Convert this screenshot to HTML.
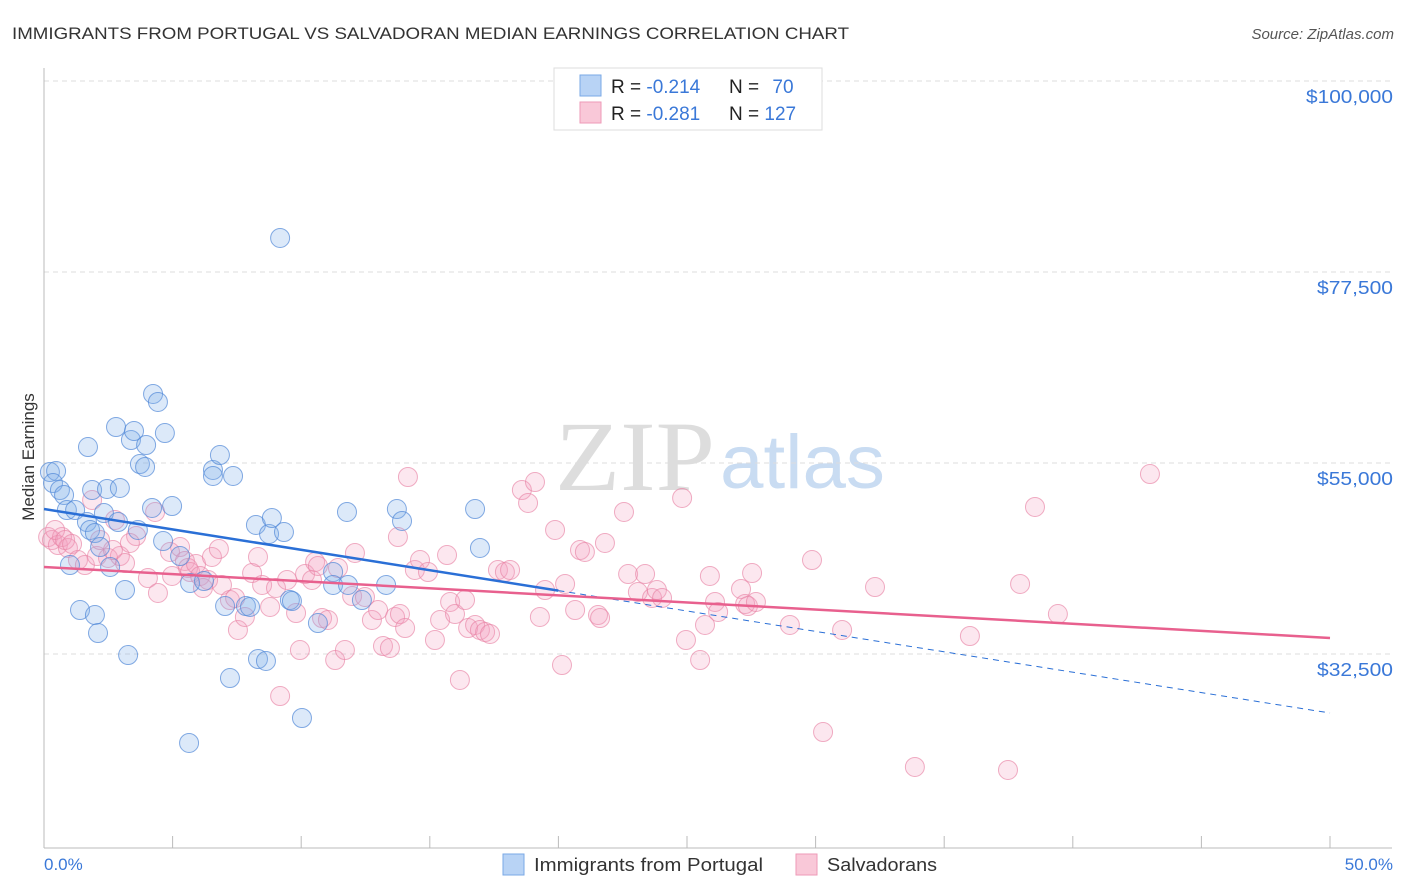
<!DOCTYPE html>
<html><head><meta charset="utf-8"><style>
body{margin:0;background:#fff;font-family:"Liberation Sans",sans-serif;}
svg{display:block}
</style></head><body>
<svg id="chart" width="1406" height="892" xmlns="http://www.w3.org/2000/svg">
<text x="12" y="39" font-size="17" fill="#333" textLength="837" lengthAdjust="spacingAndGlyphs">IMMIGRANTS FROM PORTUGAL VS SALVADORAN MEDIAN EARNINGS CORRELATION CHART</text>
<text x="1394" y="39" font-size="15" fill="#555" font-style="italic" text-anchor="end">Source: ZipAtlas.com</text>
<text x="555" y="490" font-size="100" fill="#ddd" font-family="Liberation Serif,serif" textLength="160" lengthAdjust="spacingAndGlyphs">ZIP</text>
<text x="720" y="488" font-size="76" fill="#c9dcf2" textLength="165" lengthAdjust="spacingAndGlyphs">atlas</text>
<g id="grid"></g><g id="marks"></g>
<text transform="translate(34,457) rotate(-90)" font-size="17" fill="#333" text-anchor="middle">Median Earnings</text>
<text x="44" y="870" font-size="17" fill="#3a78d8">0.0%</text>
<text x="1393" y="870" font-size="17" fill="#3a78d8" text-anchor="end">50.0%</text>
<g>
<rect x="554" y="68" width="268" height="62" fill="#fff" stroke="#ddd"/>
<rect x="580" y="75" width="21" height="21" fill="#b8d3f5" stroke="#7aa8e6"/>
<rect x="580" y="102" width="21" height="21" fill="#f9c8d8" stroke="#ee9ab7"/>
<text x="611" y="93" font-size="19" fill="#222">R = <tspan fill="#3a78d8">-0.214</tspan></text>
<text x="729" y="93" font-size="19" fill="#222">N = <tspan fill="#3a78d8" dx="8">70</tspan></text>
<text x="611" y="120" font-size="19" fill="#222">R = <tspan fill="#3a78d8">-0.281</tspan></text>
<text x="729" y="120" font-size="19" fill="#222">N = <tspan fill="#3a78d8">127</tspan></text>
</g>
<g>
<rect x="503" y="854" width="21" height="21" fill="#b8d3f5" stroke="#7aa8e6"/>
<text x="534" y="871" font-size="18" fill="#333" textLength="229" lengthAdjust="spacingAndGlyphs">Immigrants from Portugal</text>
<rect x="796" y="854" width="21" height="21" fill="#f9c8d8" stroke="#ee9ab7"/>
<text x="827" y="871" font-size="18" fill="#333" textLength="110" lengthAdjust="spacingAndGlyphs">Salvadorans</text>
</g>
</svg>
<script>
const yTicks=[32500,55000,77500,100000];
const yTickLabels=["$32,500","$55,000","$77,500","$100,000"];
const xTicks=[0,5,10,15,20,25,30,35,40,45,50];
const blueX=[0.23,0.47,0.35,0.62,0.78,0.89,1.21,1.01,1.67,1.79,1.98,2.18,1.40,1.98,2.10,1.71,1.87,2.45,2.95,2.33,2.88,2.57,3.15,3.27,2.80,3.38,3.50,3.97,3.73,3.93,4.24,4.43,4.70,4.20,4.98,3.65,4.63,5.29,5.68,6.22,6.57,6.57,6.84,7.35,8.24,8.75,8.86,9.33,7.04,7.85,8.01,7.23,8.32,8.63,9.18,9.56,9.64,10.65,10.03,5.64,11.24,11.24,11.82,11.78,12.36,13.30,13.72,13.92,16.76,16.95];
const blueY=[53.94,54.06,52.64,51.82,51.23,49.46,49.46,42.98,48.05,47.11,46.75,45.10,37.68,37.09,34.97,56.88,51.82,51.94,52.06,49.11,48.05,42.75,40.04,32.38,59.24,57.71,58.77,57.12,54.88,54.53,63.13,62.19,58.53,49.70,49.93,47.11,45.81,44.04,40.86,41.10,54.18,53.47,55.94,53.47,47.70,46.64,48.52,46.87,38.15,38.15,38.04,29.67,31.91,31.68,81.51,38.86,38.74,36.15,24.96,22.02,42.16,40.63,40.63,49.23,38.86,40.63,49.58,48.17,49.58,44.99];
const pinkX=[0.16,0.31,0.54,0.70,0.93,0.43,0.82,1.09,1.32,1.59,1.87,2.06,2.18,2.49,2.76,2.95,3.15,2.68,3.58,3.34,4.04,4.32,4.43,4.90,4.98,5.29,5.48,5.60,5.68,5.91,6.07,6.18,6.38,6.53,6.80,6.92,7.23,7.43,7.54,7.81,8.09,8.32,8.48,8.79,9.02,9.18,9.45,9.80,9.95,10.15,10.42,10.54,10.65,10.81,11.04,11.32,11.43,11.70,11.98,12.09,12.48,12.75,12.99,13.18,13.45,13.65,13.76,13.84,14.04,14.15,14.42,14.62,14.93,15.20,15.40,15.67,15.79,15.98,16.17,16.37,16.49,16.76,16.95,17.15,17.34,17.65,17.92,18.12,18.58,18.82,19.09,19.28,19.48,19.87,20.14,20.26,20.65,20.84,21.03,21.54,21.62,21.81,22.55,22.71,23.09,23.37,23.64,23.83,24.03,24.81,24.96,25.51,25.70,25.89,26.09,26.21,27.10,27.26,27.37,27.53,27.68,29.00,29.86,30.29,31.03,32.31,33.86,36.00,37.48,37.95,38.53,39.42,43.00];
const pinkY=[46.28,45.93,45.34,46.28,44.99,47.11,45.93,45.46,43.57,42.98,50.64,44.04,45.93,43.81,48.29,44.04,43.22,44.75,46.40,45.58,41.45,49.23,39.69,44.52,41.69,45.10,43.46,42.63,42.16,43.10,41.69,40.28,41.22,43.93,44.87,40.63,38.86,39.10,35.33,36.86,42.04,43.93,40.63,38.04,40.28,27.55,41.22,37.33,32.97,41.92,41.22,43.34,42.87,36.74,36.51,31.79,42.63,32.97,39.33,44.40,39.22,36.51,37.68,33.44,33.21,36.86,46.28,37.21,35.56,53.35,42.40,43.57,42.16,34.15,36.51,44.16,38.63,37.21,29.44,38.86,35.56,35.92,35.33,35.09,34.86,42.40,42.16,42.40,51.82,50.29,52.76,36.86,40.04,47.11,31.20,40.75,37.68,44.75,44.52,37.09,36.74,45.58,49.23,41.92,39.80,41.92,39.10,40.04,39.10,50.88,34.15,31.79,35.92,41.69,38.63,37.45,40.16,38.39,38.15,42.04,38.63,35.92,43.57,23.31,35.33,40.39,19.19,34.62,18.84,40.75,49.82,37.21,53.70];
const blueTrend=[49.58,25.55];
const pinkTrend=[42.75,34.39];
const blueSolidEnd=20;
const NS='http://www.w3.org/2000/svg';
const X=v=>44+v*1286/50;
const Y=k=>463-(k*1000-55000)*191/22500;
const grid=document.getElementById('grid'),marks=document.getElementById('marks');
function mk(tag,attrs,parent){const e=document.createElementNS(NS,tag);for(const k in attrs)e.setAttribute(k,attrs[k]);parent.appendChild(e);return e;}
yTicks.forEach((t,i)=>{
  const y=Y(t/1000);
  const l=mk('line',{x1:44,x2:1392,y1:y,y2:y,stroke:'#ddd','stroke-dasharray':'5,4'},grid);
  
  
  const tx=mk('text',{x:1393,y:y+22,'font-size':18,fill:'#3a78d8','text-anchor':'end',textLength:(yTickLabels[i].length*10.9).toFixed(0),lengthAdjust:'spacingAndGlyphs'},grid);
  tx.textContent=yTickLabels[i];
  
  
});
const ax=mk('line',{x1:44,x2:44,y1:68,y2:848,stroke:'#bbb'},grid);


const bx=mk('line',{x1:44,x2:1392,y1:848,y2:848,stroke:'#bbb'},grid);


xTicks.forEach(t=>{const l=mk('line',{x1:X(t),x2:X(t),y1:836,y2:848,stroke:'#bbb'},grid);
  
  });
function pts(xs,ys,fill,stroke,name){xs.forEach((x,i)=>{const c=mk('circle',{cx:X(x),cy:Y(ys[i]),r:9.5,fill:fill,stroke:stroke,'stroke-width':1},marks);
  
  });}
pts(pinkX,pinkY,'rgba(244,160,190,0.25)','rgba(232,130,165,0.65)','salvadoran-point');
pts(blueX,blueY,'rgba(130,175,235,0.28)','rgba(80,135,215,0.7)','portugal-point');
const bAt=x=>blueTrend[0]+(blueTrend[1]-blueTrend[0])*x/50;
const pAt=x=>pinkTrend[0]+(pinkTrend[1]-pinkTrend[0])*x/50;
const b1=mk('line',{x1:X(0),y1:Y(bAt(0)),x2:X(blueSolidEnd),y2:Y(bAt(blueSolidEnd)),stroke:'#2a6fd6','stroke-width':2.5},marks);


const b2=mk('line',{x1:X(blueSolidEnd),y1:Y(bAt(blueSolidEnd)),x2:X(50),y2:Y(bAt(50)),stroke:'#2a6fd6','stroke-width':1,'stroke-dasharray':'6,5'},marks);


const p1=mk('line',{x1:X(0),y1:Y(pAt(0)),x2:X(50),y2:Y(pAt(50)),stroke:'#e8608e','stroke-width':2.5},marks);


</script>
</body></html>
